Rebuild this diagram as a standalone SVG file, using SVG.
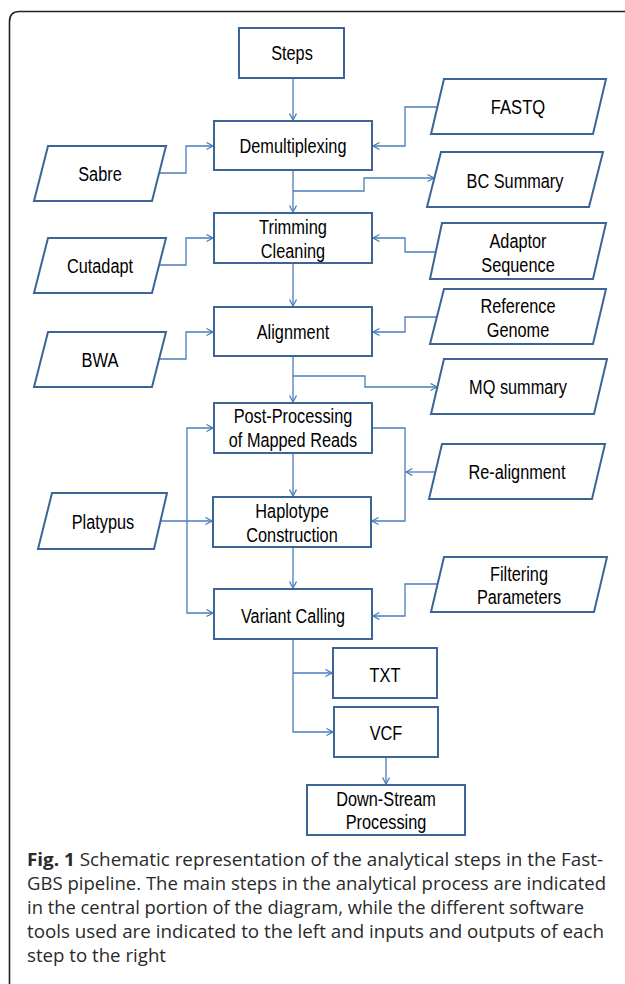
<svg xmlns="http://www.w3.org/2000/svg" width="625" height="984" viewBox="0 0 625 984">
<defs>
<marker id="arr" markerWidth="10" markerHeight="10" refX="7" refY="4" orient="auto" markerUnits="userSpaceOnUse">
<path d="M0.5,0.5 L7,4 L0.5,7.5" fill="none" stroke="#4a7ebb" stroke-width="1.3"/>
</marker>
<style>
.box{fill:#fff;stroke:#3d6496;stroke-width:2}
.io{fill:#fff;stroke:#3d6496;stroke-width:2;stroke-linejoin:miter}
.lbl{font-family:"Liberation Sans",Arial,sans-serif;font-size:20px;fill:#000;text-anchor:middle}
.con path{fill:none;stroke:#4a7ebb;stroke-width:1.3}
.arrow{marker-end:url(#arr)}
.cap{font-family:"Open Sans","Noto Sans",sans-serif;font-size:17.5px;fill:#2a2a2a}
</style>
</defs>
<rect width="625" height="984" fill="#fff"/>
<path d="M9.5,984 V21.5 Q9.5,11.5 19.5,11.5 H625" fill="none" stroke="#222" stroke-width="1.6"/>

<g class="con">
<path class="arrow" d="M293,78 V120"/>
<path class="arrow" d="M437,107 H405 V146 H373"/>
<path class="arrow" d="M159,173 H186 V146 H213"/>
<path class="arrow" d="M293,170 V212"/>
<path class="arrow" d="M293,191 H364 V178 H434"/>
<path class="arrow" d="M159,265 H186 V238 H213"/>
<path class="arrow" d="M436,252 H405 V238 H373"/>
<path class="arrow" d="M293,263 V306"/>
<path class="arrow" d="M159,359 H186 V332 H213"/>
<path class="arrow" d="M437,317 H405 V332 H373"/>
<path class="arrow" d="M293,356 V402"/>
<path class="arrow" d="M293,376 H365 V387 H437"/>
<path class="arrow" d="M293,453 V496"/>
<path class="arrow" d="M372,428 H405 V521 H372"/>
<path class="arrow" d="M435,472 H406"/>
<path class="arrow" d="M161,521 H212"/>
<path class="arrow" d="M187,521 V428 H213"/>
<path class="arrow" d="M187,521 V613 H213"/>
<path class="arrow" d="M293,547 V588"/>
<path class="arrow" d="M437,584 H405 V616 H373"/>
<path class="arrow" d="M293,639 V732 H333"/>
<path class="arrow" d="M293,673 H332"/>
<path class="arrow" d="M386,757 V784"/>
</g>

<g id="steps"><rect class="box" x="239" y="28" width="105" height="50"/><text class="lbl" x="292" y="60" textLength="41.7" lengthAdjust="spacingAndGlyphs">Steps</text></g>
<g id="demux"><rect class="box" x="214" y="121" width="158" height="49"/><text class="lbl" x="293" y="153" textLength="107" lengthAdjust="spacingAndGlyphs">Demultiplexing</text></g>
<g id="trimming"><rect class="box" x="214" y="213" width="158" height="50"/><text class="lbl" x="293" y="234" textLength="68" lengthAdjust="spacingAndGlyphs">Trimming</text><text class="lbl" x="293" y="258" textLength="64.3" lengthAdjust="spacingAndGlyphs">Cleaning</text></g>
<g id="alignment"><rect class="box" x="214" y="307" width="158" height="49"/><text class="lbl" x="293" y="339" textLength="72.5" lengthAdjust="spacingAndGlyphs">Alignment</text></g>
<g id="postproc"><rect class="box" x="214" y="403" width="158" height="50"/><text class="lbl" x="293" y="423" textLength="118.7" lengthAdjust="spacingAndGlyphs">Post-Processing</text><text class="lbl" x="293" y="447" textLength="128.4" lengthAdjust="spacingAndGlyphs">of Mapped Reads</text></g>
<g id="haplotype"><rect class="box" x="213" y="497" width="158" height="50"/><text class="lbl" x="292" y="518" textLength="73.4" lengthAdjust="spacingAndGlyphs">Haplotype</text><text class="lbl" x="292" y="542" textLength="91.5" lengthAdjust="spacingAndGlyphs">Construction</text></g>
<g id="variant"><rect class="box" x="214" y="589" width="158" height="50"/><text class="lbl" x="293" y="623" textLength="104" lengthAdjust="spacingAndGlyphs">Variant Calling</text></g>
<g id="txt"><rect class="box" x="333" y="648" width="104" height="50"/><text class="lbl" x="385" y="682" textLength="30.8" lengthAdjust="spacingAndGlyphs">TXT</text></g>
<g id="vcf"><rect class="box" x="334" y="707" width="104" height="50"/><text class="lbl" x="386" y="740" textLength="32.6" lengthAdjust="spacingAndGlyphs">VCF</text></g>
<g id="downstream"><rect class="box" x="307" y="785" width="158" height="50"/><text class="lbl" x="386" y="806" textLength="99.6" lengthAdjust="spacingAndGlyphs">Down-Stream</text><text class="lbl" x="386" y="829" textLength="80.6" lengthAdjust="spacingAndGlyphs">Processing</text></g>

<g id="sabre"><polygon class="io" points="48,146 166,146 152,201 34,201"/><text class="lbl" x="100" y="181" textLength="43.5" lengthAdjust="spacingAndGlyphs">Sabre</text></g>
<g id="cutadapt"><polygon class="io" points="48,238 166,238 152,293 34,293"/><text class="lbl" x="100" y="273" textLength="66.1" lengthAdjust="spacingAndGlyphs">Cutadapt</text></g>
<g id="bwa"><polygon class="io" points="48,332 166,332 152,387 34,387"/><text class="lbl" x="100" y="367" textLength="37.1" lengthAdjust="spacingAndGlyphs">BWA</text></g>
<g id="platypus"><polygon class="io" points="52,493 167,493 154,549 38,549"/><text class="lbl" x="103" y="529" textLength="62.5" lengthAdjust="spacingAndGlyphs">Platypus</text></g>

<g id="fastq"><polygon class="io" points="444,79 606,79 593,134 431,134"/><text class="lbl" x="518" y="114" textLength="54.3" lengthAdjust="spacingAndGlyphs">FASTQ</text></g>
<g id="bcsummary"><polygon class="io" points="441,152 603,152 589,207 427,207"/><text class="lbl" x="515" y="188" textLength="96.9" lengthAdjust="spacingAndGlyphs">BC Summary</text></g>
<g id="adaptor"><polygon class="io" points="442,223 606,223 593,279 430,279"/><text class="lbl" x="518" y="248" textLength="57.1" lengthAdjust="spacingAndGlyphs">Adaptor</text><text class="lbl" x="518" y="272" textLength="73.4" lengthAdjust="spacingAndGlyphs">Sequence</text></g>
<g id="reference"><polygon class="io" points="444,289 606,289 593,344 430,344"/><text class="lbl" x="518" y="313" textLength="75.2" lengthAdjust="spacingAndGlyphs">Reference</text><text class="lbl" x="518" y="337" textLength="62.5" lengthAdjust="spacingAndGlyphs">Genome</text></g>
<g id="mqsummary"><polygon class="io" points="444,359 607,359 594,414 431,414"/><text class="lbl" x="518" y="394" textLength="97.8" lengthAdjust="spacingAndGlyphs">MQ summary</text></g>
<g id="realignment"><polygon class="io" points="442,444 605,444 592,499 429,499"/><text class="lbl" x="517" y="479" textLength="96.9" lengthAdjust="spacingAndGlyphs">Re-alignment</text></g>
<g id="filtering"><polygon class="io" points="444,557 607,557 594,612 431,612"/><text class="lbl" x="519" y="581" textLength="58" lengthAdjust="spacingAndGlyphs">Filtering</text><text class="lbl" x="519" y="604" textLength="84.2" lengthAdjust="spacingAndGlyphs">Parameters</text></g>

<g id="caption">
<text class="cap" x="27" y="866" textLength="576" lengthAdjust="spacingAndGlyphs"><tspan font-weight="bold">Fig. 1</tspan> Schematic representation of the analytical steps in the Fast-</text>
<text class="cap" x="27" y="890" textLength="579" lengthAdjust="spacingAndGlyphs">GBS pipeline. The main steps in the analytical process are indicated</text>
<text class="cap" x="27" y="914" textLength="557" lengthAdjust="spacingAndGlyphs">in the central portion of the diagram, while the different software</text>
<text class="cap" x="27" y="938" textLength="577" lengthAdjust="spacingAndGlyphs">tools used are indicated to the left and inputs and outputs of each</text>
<text class="cap" x="27" y="962" textLength="139" lengthAdjust="spacingAndGlyphs">step to the right</text>
</g>
</svg>
